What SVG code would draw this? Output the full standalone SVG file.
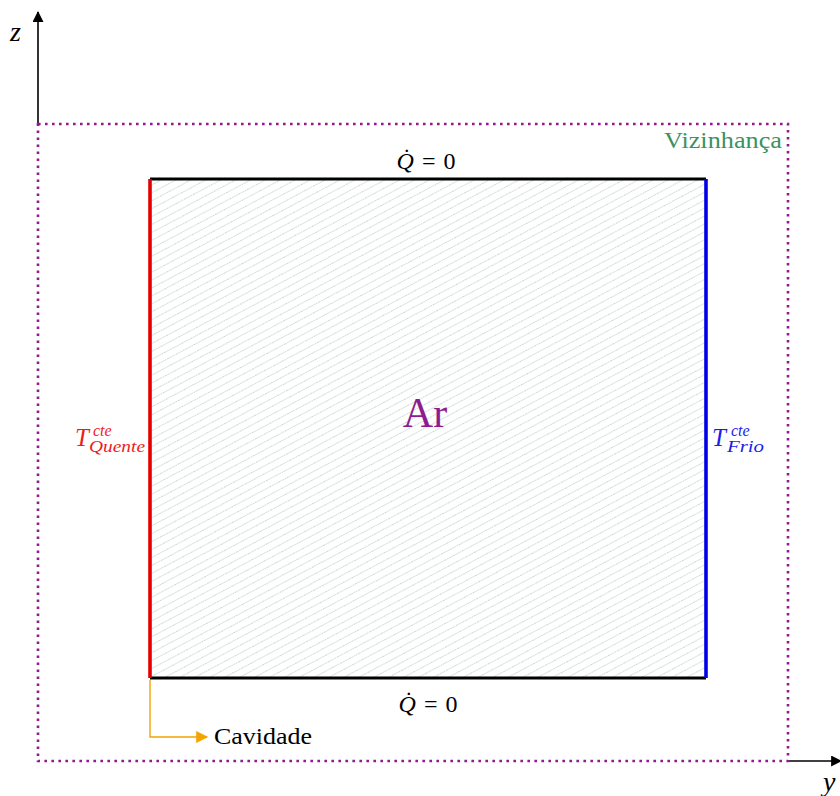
<svg xmlns="http://www.w3.org/2000/svg" width="840" height="796" viewBox="0 0 840 796" font-family="'Liberation Serif', 'DejaVu Serif', serif">
<style>
text { font-family: "Liberation Serif", "DejaVu Serif", serif; }
.it { font-style: italic; }
.axis { stroke: #000; stroke-width: 1.6; fill: none; }
.border { stroke: #8e1c8e; stroke-width: 2.6; stroke-dasharray: 2.6 4.4; fill: none; }
</style>
<defs>
<marker id="ahO" viewBox="0 0 10 10" refX="9" refY="5" markerWidth="14" markerHeight="12" markerUnits="userSpaceOnUse" orient="auto">
<path d="M0,0 L10,5 L0,10 z" fill="#f5a300"/>
</marker>
<marker id="ahA" viewBox="0 0 10 10" refX="9" refY="5" markerWidth="14" markerHeight="11" markerUnits="userSpaceOnUse" orient="auto">
<path d="M0,0 L10,5 L0,10 z" fill="#000"/>
</marker>
<pattern id="hatch" patternUnits="userSpaceOnUse" width="10" height="7" patternTransform="rotate(-28)">
<line x1="0" y1="3.5" x2="10" y2="3.5" stroke="#bccdc8" stroke-width="0.8" stroke-dasharray="1.4 0.8"/>
</pattern>
</defs>

<g id="axes">
<line class="axis" x1="38" y1="124" x2="38" y2="12" marker-end="url(#ahA)"/>
<text class="it" x="10" y="41" font-size="28">z</text>
<line class="axis" x1="788" y1="761" x2="841" y2="761" marker-end="url(#ahA)"/>
<text class="it" x="823" y="791" font-size="28">y</text>
</g>

<g id="vizinhanca">
<rect class="border" x="38" y="124" width="750" height="637"/>
<text x="782" y="148" font-size="23" fill="#3c9160" text-anchor="end" textLength="118" lengthAdjust="spacingAndGlyphs">Vizinhança</text>
</g>

<g id="cavidade">
<rect x="150" y="179" width="556" height="499" fill="url(#hatch)"/>
<line x1="150" y1="179" x2="706" y2="179" stroke="#000" stroke-width="3.2"/>
<line x1="150" y1="678" x2="706" y2="678" stroke="#000" stroke-width="3.2"/>
<line x1="150" y1="179" x2="150" y2="678" stroke="#e50000" stroke-width="3.6"/>
<line x1="706" y1="179" x2="706" y2="678" stroke="#0000e6" stroke-width="3.6"/>
<text x="425" y="427" font-size="42" fill="#8e1c8e" text-anchor="middle">Ar</text>
</g>

<g id="q-top">
<text x="426" y="169" font-size="24" text-anchor="middle"><tspan class="it">Q̇</tspan> <tspan dx="2">=</tspan> <tspan dx="2">0</tspan></text>
</g>
<g id="q-bottom">
<text x="428" y="712" font-size="24" text-anchor="middle"><tspan class="it">Q̇</tspan> <tspan dx="2">=</tspan> <tspan dx="2">0</tspan></text>
</g>

<g id="t-quente" fill="#ee1c1c">
<text class="it" x="75" y="446" font-size="25">T</text>
<text class="it" x="93" y="436" font-size="16">cte</text>
<text class="it" x="89" y="452" font-size="16" textLength="56" lengthAdjust="spacingAndGlyphs">Quente</text>
</g>

<g id="t-frio" fill="#1c1cee">
<text class="it" x="712" y="446" font-size="25">T</text>
<text class="it" x="731" y="436" font-size="16">cte</text>
<text class="it" x="727" y="452" font-size="16" textLength="37" lengthAdjust="spacingAndGlyphs">Frio</text>
</g>

<g id="connectors">
<polyline points="150,680 150,737 207,737" fill="none" stroke="#f5a300" stroke-width="1.4" marker-end="url(#ahO)"/>
</g>
<g id="label-cavidade">
<text x="214" y="744" font-size="23" textLength="98" lengthAdjust="spacingAndGlyphs">Cavidade</text>
</g>
</svg>
